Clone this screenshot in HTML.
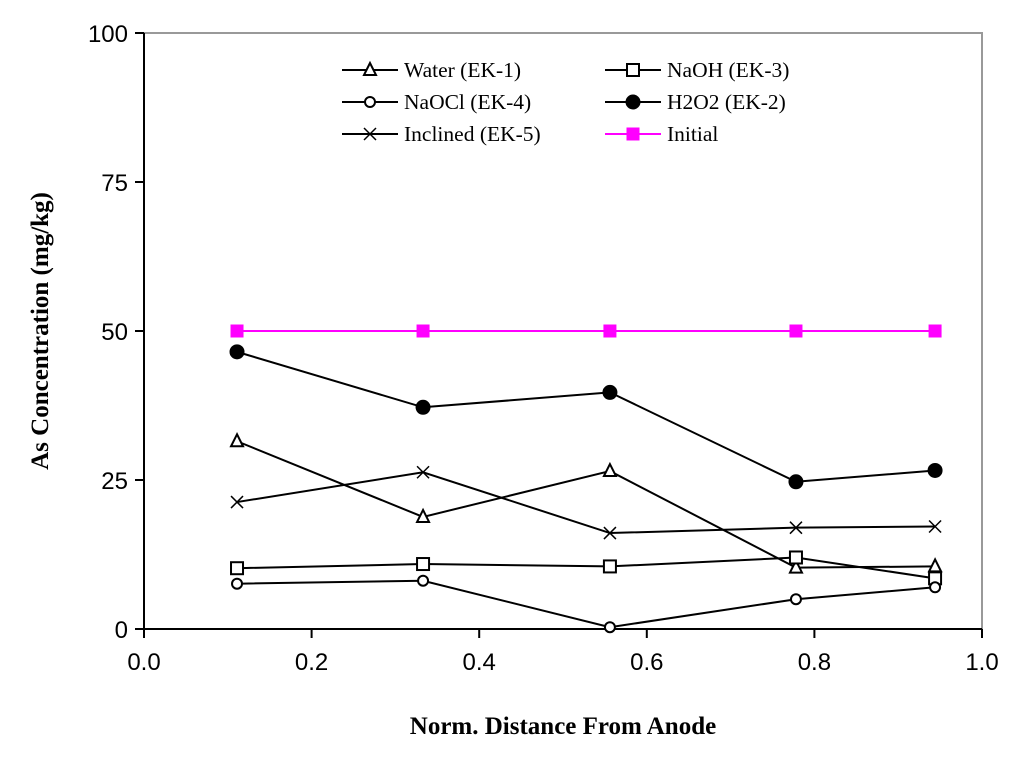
<!DOCTYPE html>
<html><head><meta charset="utf-8"><style>
html,body{margin:0;padding:0;background:#fff;overflow:hidden;}
svg text{font-family:"Liberation Serif",serif;}
</style></head><body>
<svg id="chart" width="1024" height="768" xmlns="http://www.w3.org/2000/svg" style="display:block">
<g id="g"></g>
<text x="563" y="734" font-size="25" font-weight="bold" text-anchor="middle">Norm. Distance From Anode</text>
<text transform="translate(48,331) rotate(-90)" font-size="25" font-weight="bold" text-anchor="middle">As Concentration (mg/kg)</text>
</svg>
<script>
const xPositions = [0.111, 0.333, 0.556, 0.778, 0.944];
const water = [31.5, 18.8, 26.5, 10.3, 10.5];
const naoh = [10.2, 10.9, 10.5, 12.0, 8.5];
const naocl = [7.6, 8.1, 0.3, 5.0, 7.0];
const h2o2 = [46.5, 37.2, 39.7, 24.7, 26.6];
const inclined = [21.3, 26.3, 16.1, 17.0, 17.2];
const initial = [50, 50, 50, 50, 50];
const xTicks = ["0.0","0.2","0.4","0.6","0.8","1.0"];
const yTicks = ["0","25","50","75","100"];

const X0=144, X1=982, Y0=629, Y1=33;
const sx = v => X0 + v*(X1-X0);
const sy = v => Y0 - v/100*(Y0-Y1);
const NS="http://www.w3.org/2000/svg";
const g=document.getElementById('g');
function el(tag, attrs, parent){const e=document.createElementNS(NS,tag);for(const k in attrs)e.setAttribute(k,attrs[k]);(parent||g).appendChild(e);return e;}

let b=el('polyline',{points:`${X0},${Y1} ${X1},${Y1} ${X1},${Y0}`,fill:'none',stroke:'#999','stroke-width':2});


let ax=el('line',{x1:X0,y1:Y1,x2:X0,y2:Y0+1,stroke:'#000','stroke-width':2});


let axx=el('line',{x1:X0-1,y1:Y0,x2:X1,y2:Y0,stroke:'#000','stroke-width':2});



xTicks.forEach((t,i)=>{const v=i*0.2;const x=sx(v);
 let l=el('line',{x1:x,y1:Y0,x2:x,y2:Y0+9,stroke:'#000','stroke-width':2});
 
 
 let tx=el('text',{x:x,y:Y0+41,'font-size':24,'text-anchor':'middle',fill:'#000',style:'font-family:"Liberation Sans",sans-serif'});
 tx.textContent=t;
 
 
});
yTicks.forEach((t,i)=>{const y=sy(i*25);
 let l=el('line',{x1:X0-9,y1:y,x2:X0,y2:y,stroke:'#000','stroke-width':2});
 
 
 let tx=el('text',{x:X0-16,y:y+9,'font-size':24,'text-anchor':'end',fill:'#000',style:'font-family:"Liberation Sans",sans-serif'});
 tx.textContent=t;
 
 
});

function marker(type,x,y,parent){
 const s=6;
 if(type==='tri') return el('polygon',{points:`${x},${y-s-1} ${x-s},${y+s-1} ${x+s},${y+s-1}`,fill:'#fff',stroke:'#000','stroke-width':2},parent);
 if(type==='sq') return el('rect',{x:x-s,y:y-s,width:2*s,height:2*s,fill:'#fff',stroke:'#000','stroke-width':2},parent);
 if(type==='circ') return el('circle',{cx:x,cy:y,r:s-1,fill:'#fff',stroke:'#000','stroke-width':2},parent);
 if(type==='dot') return el('circle',{cx:x,cy:y,r:s+1,fill:'#000',stroke:'#000','stroke-width':1},parent);
 if(type==='x') return el('path',{d:`M${x-s},${y-s}L${x+s},${y+s}M${x-s},${y+s}L${x+s},${y-s}`,stroke:'#000','stroke-width':1.5,fill:'none'},parent);
 if(type==='msq') return el('rect',{x:x-s,y:y-s,width:2*s,height:2*s,fill:'#f0f',stroke:'#f0f','stroke-width':1},parent);
}
const series=[
 {name:'water',vals:water,m:'tri',c:'#000',label:'Water (EK-1)'},
 {name:'naoh',vals:naoh,m:'sq',c:'#000',label:'NaOH (EK-3)'},
 {name:'naocl',vals:naocl,m:'circ',c:'#000',label:'NaOCl (EK-4)'},
 {name:'h2o2',vals:h2o2,m:'dot',c:'#000',label:'H2O2 (EK-2)'},
 {name:'inclined',vals:inclined,m:'x',c:'#000',label:'Inclined (EK-5)'},
 {name:'initial',vals:initial,m:'msq',c:'#f0f',label:'Initial'}
];
series.forEach(s=>{
 const grp=el('g',{});
 
 
 const pts=s.vals.map((v,i)=>sx(xPositions[i])+','+sy(v)).join(' ');
 const pl=el('polyline',{points:pts,fill:'none',stroke:s.c,'stroke-width':2},grp);
 
 
 s.vals.forEach((v,i)=>{const m=marker(s.m,sx(xPositions[i]),sy(v),grp);
  
  });
});

const legPos=[[342,70],[605,70],[342,102],[605,102],[342,134],[605,134]];
series.forEach((s,i)=>{
 const [lx,ly]=legPos[i];
 const grp=el('g',{});
 
 
 el('line',{x1:lx,y1:ly,x2:lx+56,y2:ly,stroke:s.c,'stroke-width':2},grp);
 marker(s.m,lx+28,ly,grp);
 const t=el('text',{x:lx+62,y:ly+7,'font-size':21.5,fill:'#000'},grp);
 t.textContent=s.label;
});
</script>
</body></html>
